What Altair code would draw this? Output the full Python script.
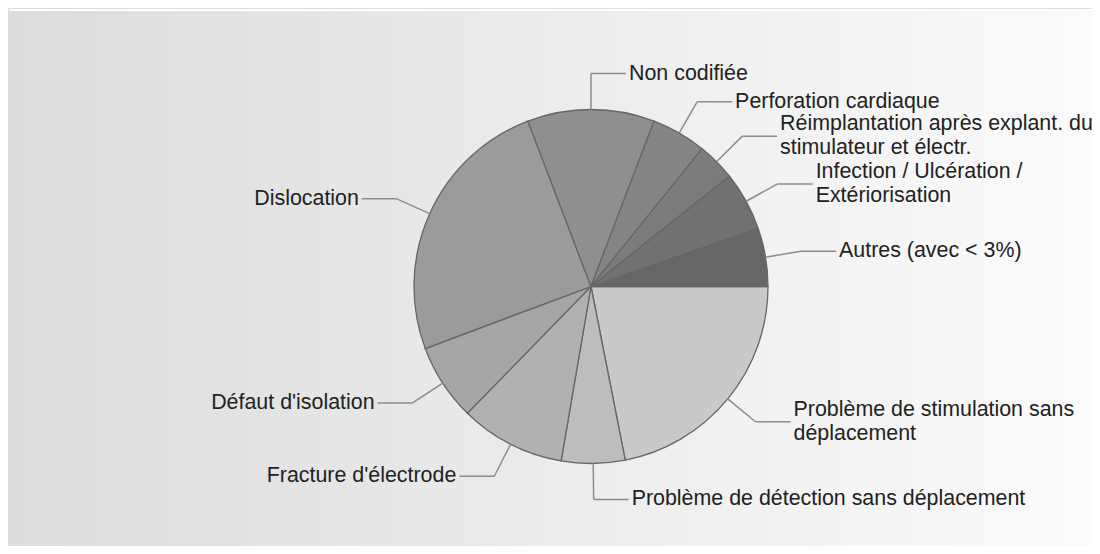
import math
import altair as alt
import pandas as pd

# Data (clockwise from 3 o'clock)
categories = [
    "Problème de stimulation sans\ndéplacement",
    "Problème de détection sans déplacement",
    "Fracture d'électrode",
    "Défaut d'isolation",
    "Dislocation",
    "Non codifiée",
    "Perforation cardiaque",
    "Réimplantation après explant. du\nstimulateur et électr.",
    "Infection / Ulcération /\nExtériorisation",
    "Autres (avec < 3%)",
]
values = [21.9, 5.8, 9.6, 7.0, 24.9, 11.6, 5.0, 3.5, 5.4, 5.3]
shades = ["#c9c9c9", "#bdbdbd", "#b1b1b1", "#a6a6a6", "#9b9b9b",
          "#8f8f8f", "#858585", "#7b7b7b", "#717171", "#666666"]

W, H = 1084, 538
CX, CY = 583, 278.5
R = 177
RE = 213
HL = 35
LH = 24

df = pd.DataFrame({"cat": categories, "value": values, "idx": list(range(len(values)))})
df["nlines"] = [c.count("\n") + 1 for c in categories]

bg = alt.Chart(pd.DataFrame({"a": [0]})).mark_rect(
    color=alt.Gradient(
        gradient="linear",
        stops=[alt.GradientStop(color="#dcdcdc", offset=0),
               alt.GradientStop(color="#fbfbfb", offset=1)],
        x1=0, x2=1, y1=0, y2=0,
    )
).encode(x=alt.value(0), x2=alt.value(W), y=alt.value(3), y2=alt.value(H))

pie = alt.Chart(df).mark_arc(radius=R, stroke="#666666", strokeWidth=1.3).encode(
    theta=alt.Theta("value:Q", stack=True,
                    scale=alt.Scale(range=[math.pi / 2, math.pi / 2 + 2 * math.pi])),
    order=alt.Order("idx:Q"),
    color=alt.Color("cat:N", scale=alt.Scale(domain=categories, range=shades), legend=None),
    x=alt.value(CX),
    y=alt.value(CY),
)

base = (
    alt.Chart(df)
    .transform_joinaggregate(total="sum(value)")
    .transform_window(cum="sum(value)", sort=[alt.SortField("idx")], frame=[None, 0])
    .transform_calculate(a="PI/2 + 2*PI*(datum.cum - datum.value/2)/datum.total")
    .transform_calculate(ax=f"{CX} + {R}*sin(datum.a)")
    .transform_calculate(ay=f"{CY} - {R}*cos(datum.a)")
    .transform_calculate(ex=f"{CX} + {RE}*sin(datum.a)")
    .transform_calculate(ey=f"{CY} - {RE}*cos(datum.a)")
    .transform_calculate(side="sin(datum.a) > -0.02 ? 1 : -1")
    .transform_calculate(hx=f"datum.ex + datum.side*{HL}")
    .transform_calculate(tx="datum.hx + datum.side*3")
    .transform_calculate(ty=f"datum.ey - (datum.nlines - 1)*{LH / 2}")
)

seg1 = base.mark_rule(color="#8c8c8c", strokeWidth=1.5).encode(
    x=alt.X("ax:Q", scale=None), y=alt.Y("ay:Q", scale=None),
    x2="ex:Q", y2="ey:Q",
)
seg2 = base.mark_rule(color="#8c8c8c", strokeWidth=1.5).encode(
    x=alt.X("ex:Q", scale=None), y=alt.Y("ey:Q", scale=None),
    x2="hx:Q", y2="ey:Q",
)

txt_kw = dict(font="Liberation Sans", fontSize=21.4, color="#222222",
              baseline="middle", lineBreak="\n", lineHeight=LH)
txt_r = base.transform_filter("datum.side > 0").mark_text(align="left", **txt_kw).encode(
    x=alt.X("tx:Q", scale=None), y=alt.Y("ty:Q", scale=None), text="cat:N")
txt_l = base.transform_filter("datum.side < 0").mark_text(align="right", **txt_kw).encode(
    x=alt.X("tx:Q", scale=None), y=alt.Y("ty:Q", scale=None), text="cat:N")

chart = alt.layer(bg, pie, seg1, seg2, txt_r, txt_l).properties(
    width=W, height=H, autosize="none", padding=0
).configure_view(stroke=None).configure(background="#ffffff")

chart.save("out.html", embed_options={"renderer": "svg", "actions": False})
